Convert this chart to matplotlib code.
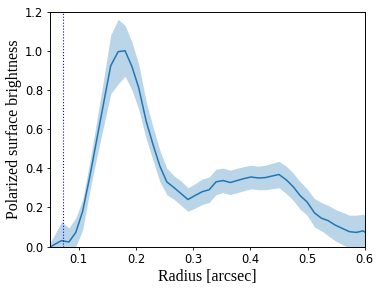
import numpy as np
import matplotlib
matplotlib.use("Agg")
import matplotlib.pyplot as plt

# radial profile
radius = [0.046, 0.058, 0.070, 0.083, 0.095, 0.107, 0.120, 0.132, 0.144, 0.156,
          0.169, 0.181, 0.193, 0.205, 0.218, 0.230, 0.242, 0.254, 0.267, 0.279,
          0.291, 0.303, 0.316, 0.328, 0.340, 0.352, 0.365, 0.377, 0.389, 0.401,
          0.414, 0.426, 0.438, 0.450, 0.463, 0.475, 0.487, 0.499, 0.512, 0.524,
          0.536, 0.548, 0.561, 0.573, 0.585, 0.597, 0.610]
brightness = [-0.010, 0.011, 0.030, 0.023, 0.072, 0.180, 0.365, 0.552, 0.738, 0.923,
              0.995, 1.000, 0.920, 0.810, 0.640, 0.520, 0.410, 0.330, 0.300, 0.270,
              0.240, 0.260, 0.280, 0.290, 0.330, 0.337, 0.327, 0.337, 0.347, 0.355,
              0.350, 0.352, 0.360, 0.368, 0.340, 0.305, 0.260, 0.228, 0.172, 0.145,
              0.132, 0.110, 0.092, 0.076, 0.072, 0.080, 0.055]
upper = [0.000, 0.060, 0.127, 0.095, 0.146, 0.240, 0.440, 0.650, 0.860, 1.080,
         1.160, 1.130, 1.046, 0.930, 0.740, 0.610, 0.490, 0.400, 0.360, 0.335,
         0.300, 0.320, 0.345, 0.355, 0.395, 0.400, 0.390, 0.400, 0.408, 0.415,
         0.410, 0.415, 0.425, 0.435, 0.410, 0.375, 0.330, 0.295, 0.245, 0.225,
         0.210, 0.190, 0.175, 0.160, 0.160, 0.165, 0.145]
lower = [-0.050, -0.050, -0.070, -0.050, 0.000, 0.085, 0.290, 0.460, 0.620, 0.780,
         0.830, 0.870, 0.800, 0.700, 0.550, 0.440, 0.330, 0.265, 0.240, 0.210,
         0.180, 0.195, 0.215, 0.225, 0.265, 0.275, 0.265, 0.275, 0.285, 0.295,
         0.290, 0.290, 0.295, 0.300, 0.270, 0.235, 0.190, 0.160, 0.100, 0.080,
         0.055, 0.030, 0.010, -0.010, -0.020, -0.010, -0.040]
r_mask = 0.0727

fig = plt.figure(figsize=(3.82, 2.89), dpi=100)
ax = fig.add_axes([0.131, 0.147, 0.824, 0.813])

ax.fill_between(radius, lower, upper, color='C0', alpha=0.3, linewidth=0)
ax.plot(radius, brightness, color='C0', lw=1.1)
ax.axvline(r_mask, color='blue', ls=':', lw=0.8)

ax.set_xlim(0.05, 0.6)
ax.set_ylim(0, 1.2)
ax.set_xticks([0.1, 0.2, 0.3, 0.4, 0.5, 0.6])
ax.set_yticks(np.arange(0, 1.21, 0.2))
ax.tick_params(labelsize=8.3, length=2.5, width=0.6, pad=2.5)
for s in ax.spines.values():
    s.set_linewidth(0.7)

serif = ['Liberation Serif', 'DejaVu Serif']
ax.set_xlabel('Radius [arcsec]', family=serif, fontsize=11.4, labelpad=1.5)
ax.set_ylabel('Polarized surface brightness', family=serif, fontsize=11.4, labelpad=2)

fig.savefig('out.png', dpi=100)
